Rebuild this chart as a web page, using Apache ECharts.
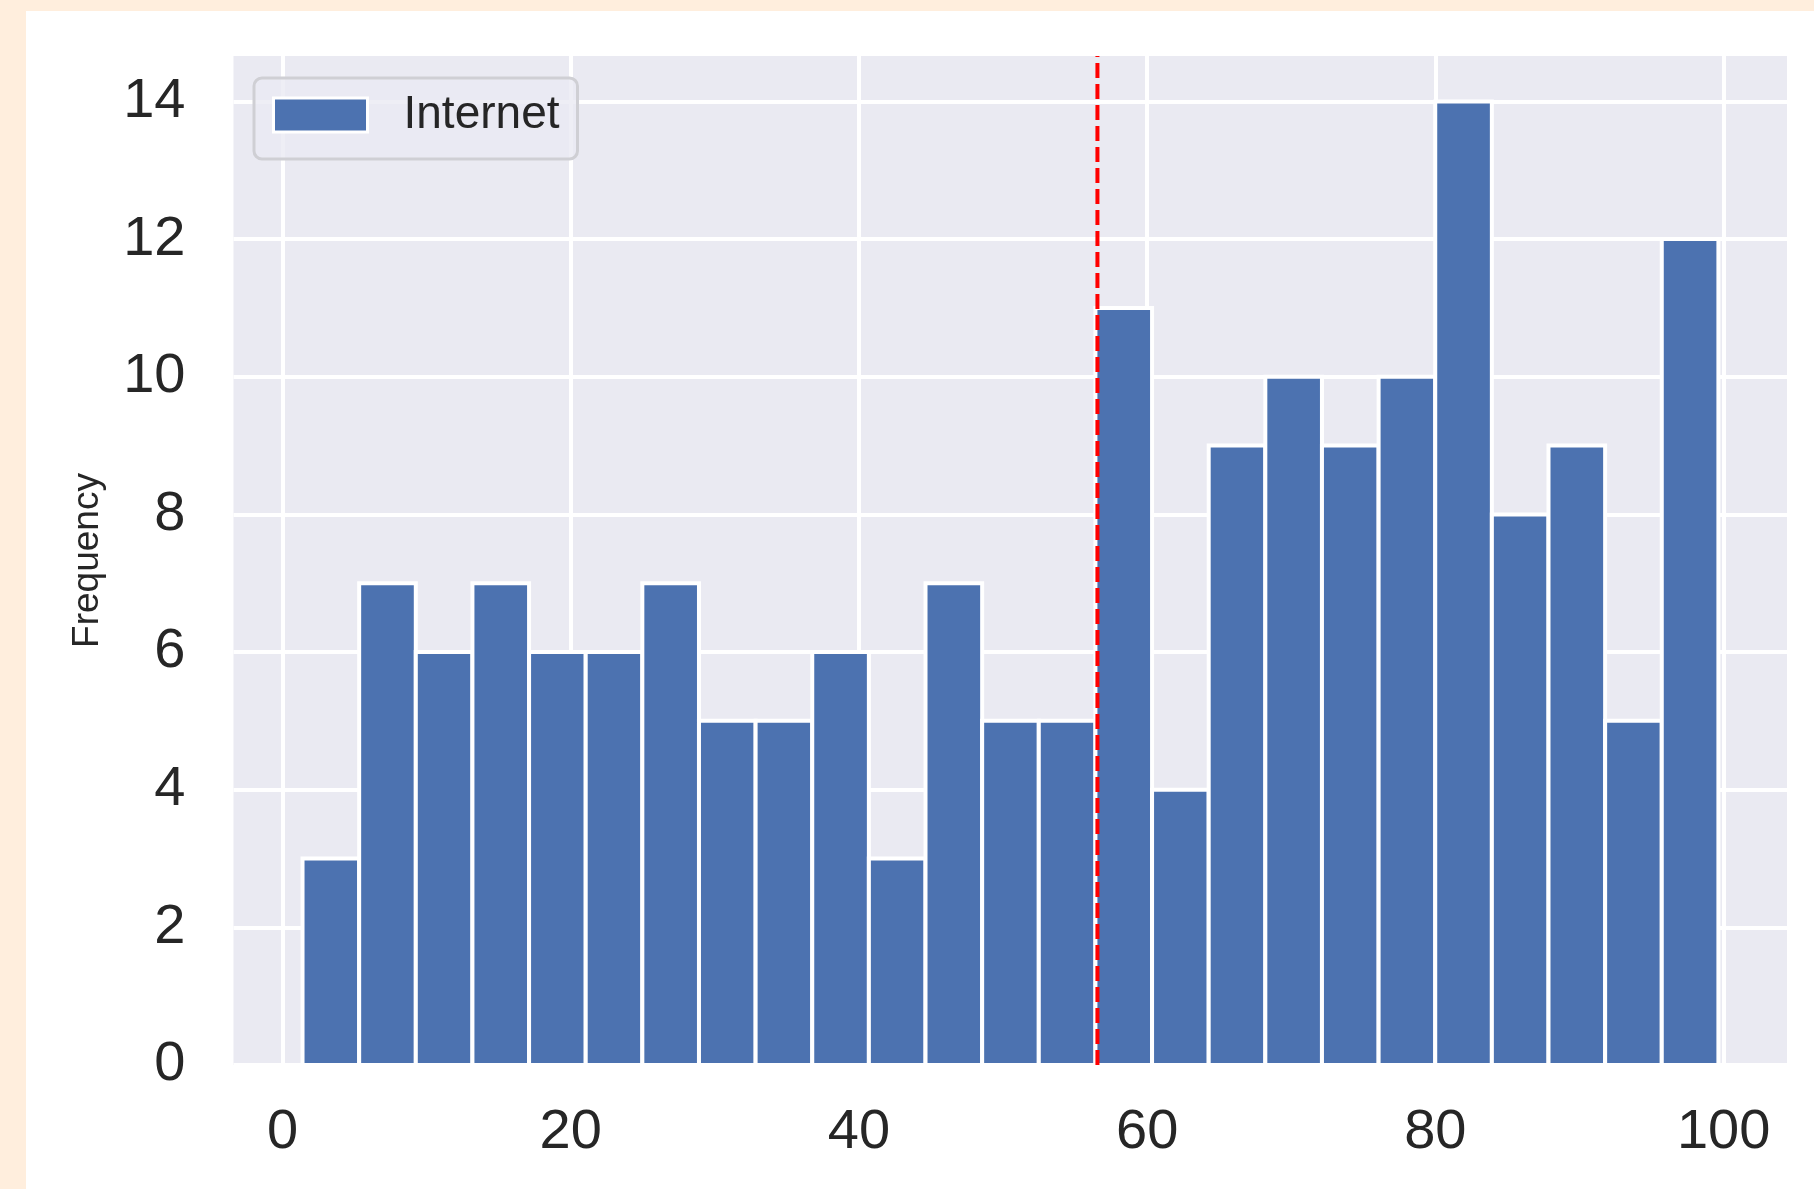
<!DOCTYPE html>
<html><head><meta charset="utf-8">
<script src="https://cdn.jsdelivr.net/npm/echarts@6/dist/echarts.min.js"></script>
<style>
html,body{margin:0;padding:0;width:1814px;height:1189px;background:#FFEEDD;overflow:hidden;}
#chart{position:absolute;left:26px;top:11px;width:1788px;height:1178px;background:#ffffff;}
</style></head><body><div id="chart"></div>
<script>
// Histogram bin edges (26 edges -> 25 bins)
const binEdges = [1.39, 5.32, 9.25, 13.18, 17.11, 21.04, 24.97, 28.90, 32.83, 36.76,
  40.69, 44.62, 48.55, 52.48, 56.41, 60.34, 64.27, 68.20, 72.13, 76.06,
  79.99, 83.92, 87.85, 91.78, 95.71, 99.64];
// Frequencies per bin
const counts = [3, 7, 6, 7, 6, 6, 7, 5, 5, 6, 3, 7, 5, 5, 11, 4, 9, 10, 9, 10, 14, 8, 9, 5, 12];
const xTicks = [0, 20, 40, 60, 80, 100];
const yTicks = [0, 2, 4, 6, 8, 10, 12, 14];
const meanValue = 56.55;
const seriesName = 'Internet';
const yAxisName = 'Frequency';
const X_MIN = -3.40, X_MAX = 104.4, Y_MIN = 0, Y_MAX = 14.66;

const FONT = "'Liberation Sans', Arial, Helvetica, sans-serif";
const TEXT = '#262626';
const BAR = '#4C72B0';

const barData = counts.map((c, i) => [binEdges[i], binEdges[i + 1], c]);

const chart = echarts.init(document.getElementById('chart'), null, {renderer: 'canvas'});
chart.setOption({
  animation: false,
  textStyle: {fontFamily: FONT},
  grid: {left: 207.5, top: 45, width: 1553.5, height: 1009, show: true,
         backgroundColor: '#EAEAF2', borderWidth: 0, containLabel: false},
  legend: {
    left: 228, top: 67,
    orient: 'horizontal',
    padding: [14, 18, 21, 18],
    itemWidth: 94, itemHeight: 34,
    backgroundColor: 'rgba(234,234,242,0.8)',
    borderColor: '#cfcfd4', borderWidth: 3, borderRadius: 8,
    textStyle: {fontSize: 46, color: TEXT, fontFamily: FONT, padding: [0, 0, 0, 31]},
    data: [{name: seriesName, icon: 'rect',
            itemStyle: {color: BAR, borderColor: '#ffffff', borderWidth: 3}}]
  },
  xAxis: {
    type: 'value', min: X_MIN, max: X_MAX,
    axisLine: {show: false},
    axisTick: {show: false, customValues: xTicks},
    axisLabel: {customValues: xTicks, fontSize: 56, color: TEXT, margin: 40, fontFamily: FONT},
    splitLine: {show: true, lineStyle: {color: '#ffffff', width: 4}}
  },
  yAxis: {
    type: 'value', min: Y_MIN, max: Y_MAX,
    name: yAxisName, nameLocation: 'middle', nameGap: 127,
    nameTextStyle: {fontSize: 37, color: TEXT, fontFamily: FONT},
    axisLine: {show: false},
    axisTick: {show: false, customValues: yTicks},
    axisLabel: {customValues: yTicks, fontSize: 56, color: TEXT, margin: 48, fontFamily: FONT},
    splitLine: {show: true, lineStyle: {color: '#ffffff', width: 4}}
  },
  series: [
    {
      name: seriesName,
      type: 'custom',
      itemStyle: {color: BAR},
      encode: {x: [0, 1], y: 2},
      data: barData,
      renderItem: function (params, api) {
        const x0 = api.value(0), x1 = api.value(1), v = api.value(2);
        const p0 = api.coord([x0, 0]);
        const p1 = api.coord([x1, v]);
        return {
          type: 'rect',
          shape: {x: p0[0], y: p1[1], width: p1[0] - p0[0], height: p0[1] - p1[1]},
          style: {fill: BAR, stroke: '#ffffff', lineWidth: 4}
        };
      },
      z: 2
    },
    {
      name: 'mean',
      type: 'line',
      data: [[meanValue, Y_MIN], [meanValue, Y_MAX]],
      symbol: 'none',
      lineStyle: {color: '#ff0000', width: 4, type: [15, 6]},
      z: 5,
      silent: true
    }
  ]
});
</script></body></html>
